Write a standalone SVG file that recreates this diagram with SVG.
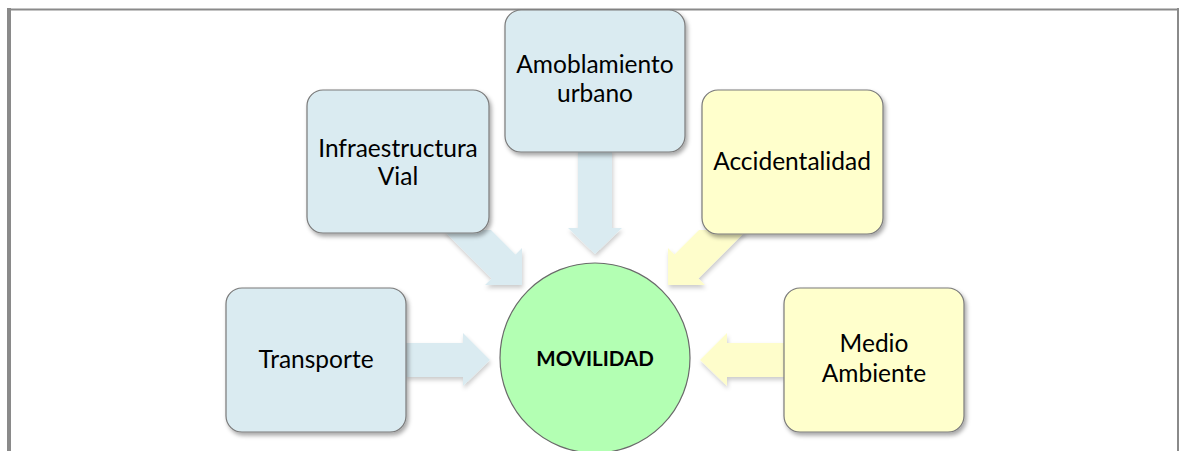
<svg xmlns="http://www.w3.org/2000/svg" width="1181" height="451" viewBox="0 0 1181 451">
<style>
.box{stroke:#7a7a7a;stroke-width:1.2}
.blue{fill:#daebf1}
.yellow{fill:#ffffcc}
.ablue{fill:#daebf1}
.ayellow{fill:#fefdcb}
.t{font-family:Lato,"Open Sans",sans-serif;font-size:24.5px;fill:#000;text-anchor:middle}
.tb{font-family:Lato,"Open Sans",sans-serif;font-size:20.5px;font-weight:bold;fill:#000;text-anchor:middle}
.frame{stroke:#8a8a8a;fill:none}
</style>
<defs>
<filter id="sh" x="-20%" y="-20%" width="140%" height="140%">
<feDropShadow dx="2" dy="3" stdDeviation="2" flood-color="#000" flood-opacity="0.35"/>
</filter>
<filter id="ash" x="-20%" y="-20%" width="140%" height="140%">
<feDropShadow dx="1" dy="3" stdDeviation="2" flood-color="#000" flood-opacity="0.2"/>
</filter>
</defs>
<rect width="1181" height="451" fill="#fff"/>
<g id="frame">
<line class="frame" x1="7" y1="9.5" x2="1179" y2="9.5" stroke-width="2"/>
<line class="frame" x1="9" y1="8" x2="9" y2="451" stroke-width="4"/>
<line class="frame" x1="1178" y1="8" x2="1178" y2="451" stroke-width="2"/>
</g>
<g id="connectors">
<polygon class="ablue" filter="url(#ash)" points="406,343 463,343 463,333 490,360 463,386 463,377 406,377"/>
<polygon class="ayellow" filter="url(#ash)" points="784,343 727,343 727,333 700,360 727,386 727,377 784,377"/>
<polygon class="ablue" filter="url(#ash)" points="578,150 612,150 612,228 622,228 595,254 568,228 578,228"/>
<polygon class="ablue" filter="url(#ash)" points="443,230 491,230 515.5,254.5 522,248 522,285 485,285 491.5,278.5"/>
<polygon class="ayellow" filter="url(#ash)" points="747,230 699,230 674.5,254.5 668,248 668,285 705,285 698.5,278.5"/>
</g>
<g id="node-infraestructura">
<rect class="box blue" filter="url(#sh)" x="307" y="90" width="182" height="143" rx="16"/>
<text class="t" x="398" y="157">Infraestructura</text>
<text class="t" x="398" y="185">Vial</text>
</g>
<g id="node-amoblamiento">
<rect class="box blue" filter="url(#sh)" x="505" y="10" width="180" height="142" rx="16"/>
<text class="t" x="595" y="73">Amoblamiento</text>
<text class="t" x="595" y="102">urbano</text>
</g>
<g id="node-accidentalidad">
<rect class="box yellow" filter="url(#sh)" x="702" y="90" width="181" height="144" rx="16"/>
<text class="t" x="792" y="170">Accidentalidad</text>
</g>
<g id="node-transporte">
<rect class="box blue" filter="url(#sh)" x="226" y="288" width="180" height="144" rx="16"/>
<text class="t" x="316" y="368">Transporte</text>
</g>
<g id="node-medio">
<rect class="box yellow" filter="url(#sh)" x="784" y="288" width="180" height="144" rx="16"/>
<text class="t" x="874" y="352">Medio</text>
<text class="t" x="874" y="382">Ambiente</text>
</g>
<g id="node-movilidad">
<circle cx="595" cy="358" r="95" fill="#b3ffb3" stroke="#6a6a6a" stroke-width="1.2"/>
<text class="tb" x="595" y="366">MOVILIDAD</text>
</g>
</svg>
